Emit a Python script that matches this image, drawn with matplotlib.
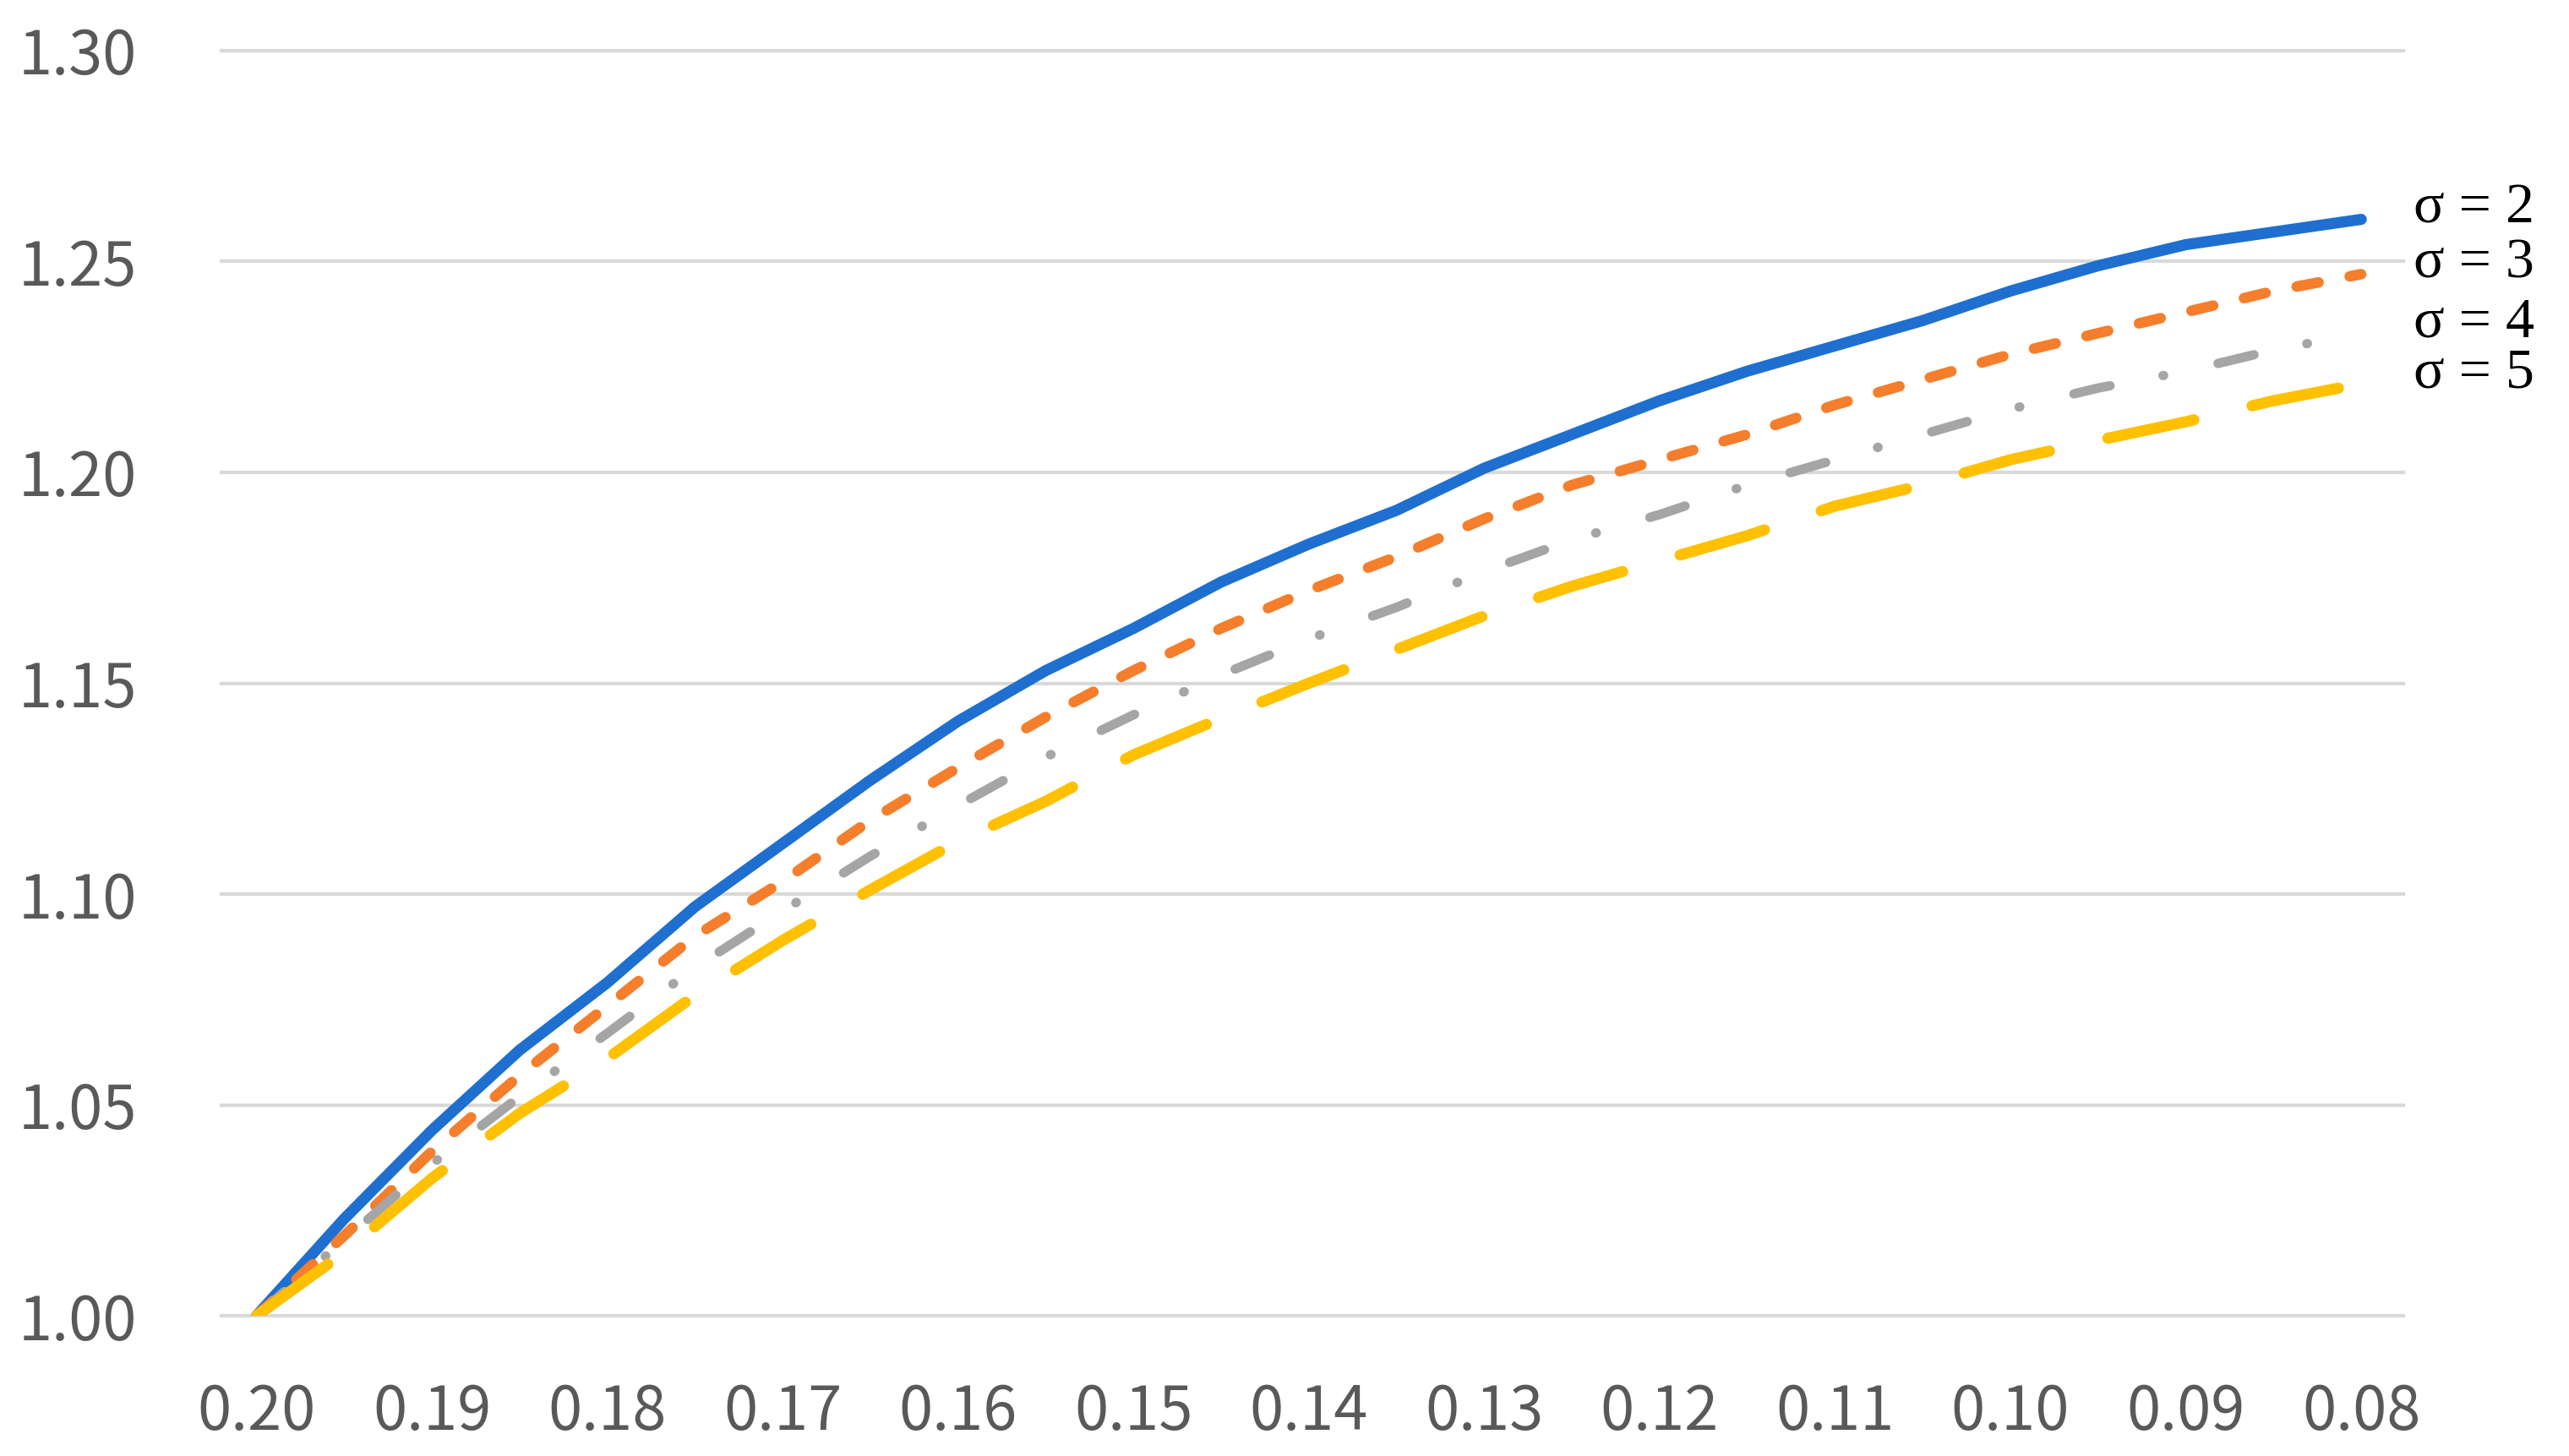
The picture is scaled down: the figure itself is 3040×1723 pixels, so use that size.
import numpy as np
import matplotlib.pyplot as plt

plt.rcParams['lines.scale_dashes'] = False

# x values (every second one gets a tick label)
rates = [0.200, 0.195, 0.190, 0.185, 0.180, 0.175, 0.170, 0.165, 0.160,
         0.155, 0.150, 0.145, 0.140, 0.135, 0.130, 0.125, 0.120, 0.115,
         0.110, 0.105, 0.100, 0.095, 0.090, 0.085, 0.080]

sigma2 = [1.000, 1.023, 1.044, 1.063, 1.079, 1.097, 1.112, 1.127, 1.141,
          1.153, 1.163, 1.174, 1.183, 1.191, 1.201, 1.209, 1.217, 1.224,
          1.230, 1.236, 1.243, 1.249, 1.254, 1.257, 1.260]
sigma3 = [1.000, 1.019, 1.039, 1.057, 1.0735, 1.090, 1.103, 1.1175, 1.130,
          1.142, 1.153, 1.163, 1.172, 1.180, 1.189, 1.197, 1.203, 1.209,
          1.216, 1.222, 1.228, 1.233, 1.238, 1.243, 1.247]
sigma4 = [1.000, 1.018, 1.036, 1.052, 1.067, 1.0826, 1.096, 1.109, 1.121,
          1.1325, 1.1425, 1.152, 1.1605, 1.168, 1.1765, 1.184, 1.190, 1.197,
          1.203, 1.209, 1.215, 1.220, 1.224, 1.229, 1.233]
sigma5 = [1.000, 1.015, 1.0326, 1.048, 1.061, 1.076, 1.089, 1.101, 1.1125,
          1.122, 1.133, 1.1417, 1.150, 1.158, 1.166, 1.173, 1.179, 1.185,
          1.192, 1.197, 1.203, 1.2076, 1.212, 1.217, 1.221]

series_labels = ['σ = 2', 'σ = 3', 'σ = 4', 'σ = 5']
y_ticks = [1.00, 1.05, 1.10, 1.15, 1.20, 1.25, 1.30]

fig = plt.figure(figsize=(30.4, 17.23), dpi=100)
ax = fig.add_axes([0.0862, 0.0963, 0.8493, 0.8689])

pos = np.arange(len(rates)) / 2

styles = [
    dict(color='#1F6FD0', lw=9.5, ls='-'),
    dict(color='#F47E2C', lw=9.0, dashes=(19, 27)),
    dict(color='#A5A5A5', lw=8.0, dashes=(31.5, 46, 0.5, 47.5)),
    dict(color='#FFC000', lw=9.5, dashes=(75, 51)),
]
for vals, st in zip([sigma2, sigma3, sigma4, sigma5], styles):
    ax.plot(pos, vals, solid_capstyle='round', dash_capstyle='round',
            solid_joinstyle='round', **st)

# labels at the line ends
for vals, lab in zip([sigma2, sigma3, sigma4, sigma5], series_labels):
    ax.text(pos[-1] + 0.3, vals[-1] + 0.0025, lab, fontsize=49,
            family='Liberation Serif', va='center', ha='left')

ax.set_xlim(-0.2, 12.24)
ax.set_ylim(1.0, 1.3)
ax.set_xticks(pos[::2])
ax.set_xticklabels([f'{r:.2f}' for r in rates[::2]])
ax.set_yticks(y_ticks)
ax.set_yticklabels([f'{v:.2f}' for v in y_ticks])

ax.grid(axis='y', color='#d9d9d9', lw=3.0)
ax.set_axisbelow(True)
for gl in ax.get_ygridlines():
    gl.set_clip_on(False)
for s in ax.spines.values():
    s.set_visible(False)

ax.tick_params(axis='both', length=0, labelsize=52, labelcolor='#595959')
ax.tick_params(axis='y', pad=72)
ax.tick_params(axis='x', pad=56)
for t in ax.get_xticklabels() + ax.get_yticklabels():
    t.set_family(['Noto Sans CJK KR', 'DejaVu Sans'])

fig.savefig('out.png', dpi=100, facecolor='white')
